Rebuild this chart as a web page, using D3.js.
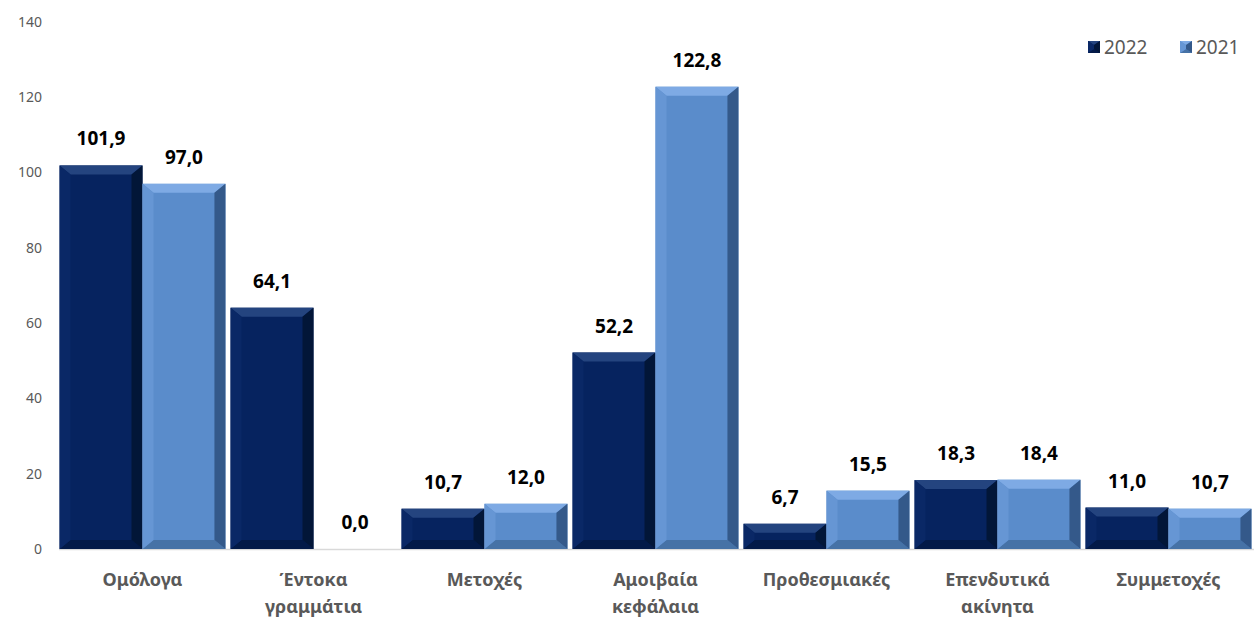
<!DOCTYPE html>
<html>
<head>
<meta charset="utf-8">
<script src="https://cdn.jsdelivr.net/npm/d3@7"></script>
<style>
  body { margin: 0; background: #fff; }
  svg text { font-family: "Noto Sans", "Open Sans", sans-serif; }
</style>
</head>
<body>
<div id="chart"></div>
<script>
// Data
const categories = [
  ["Ομόλογα"],
  ["Έντοκα", "γραμμάτια"],
  ["Μετοχές"],
  ["Αμοιβαία", "κεφάλαια"],
  ["Προθεσμιακές"],
  ["Επενδυτικά", "ακίνητα"],
  ["Συμμετοχές"]
];
const seriesNames = ["2022", "2021"];
const values2022 = [101.9, 64.1, 10.7, 52.2, 6.7, 18.3, 11.0];
const values2021 = [97.0, 0.0, 12.0, 122.8, 15.5, 18.4, 10.7];
const yTicks = [0, 20, 40, 60, 80, 100, 120, 140];

const width = 1254, height = 622;
const margin = { top: 22, right: 0, bottom: 73, left: 57 };

const colors = {
  "2022": { base: "#06235f", top: "#24447f", left: "#0a2866", right: "#021638", bottom: "#031a48" },
  "2021": { base: "#5a8ccb", top: "#7eaae4", left: "#6696d4", right: "#34598a", bottom: "#4672a6" }
};

const svg = d3.select("#chart").append("svg")
  .attr("width", width).attr("height", height);

const x0 = d3.scaleBand()
  .domain(d3.range(categories.length))
  .range([margin.left, width - margin.right])
  .paddingInner(0.03).paddingOuter(0.015);

const x1 = d3.scaleBand().domain(seriesNames).range([0, x0.bandwidth()]);

const y = d3.scaleLinear().domain([0, 140]).range([height - margin.bottom, margin.top]);

// y tick labels
svg.append("g").selectAll("text")
  .data(yTicks).join("text")
  .attr("x", 42).attr("y", d => y(d)).attr("dy", "0.35em")
  .attr("text-anchor", "end")
  .attr("font-size", 14).attr("fill", "#595959")
  .text(d => d);

// baseline
svg.append("line")
  .attr("x1", margin.left + 2).attr("x2", width)
  .attr("y1", y(0) + 0.5).attr("y2", y(0) + 0.5)
  .attr("stroke", "#d9d9d9").attr("stroke-width", 1.5);

const rows = [];
categories.forEach((c, i) => {
  rows.push({ i, s: "2022", v: values2022[i] });
  rows.push({ i, s: "2021", v: values2021[i] });
});

function bevelBar(g, x, yTop, w, h, col, bev) {
  if (h <= 0) return;
  g.append("rect").attr("x", x).attr("y", yTop).attr("width", w).attr("height", h).attr("fill", col.base);
  const b = Math.min(bev, h / 2, w / 2);
  const bx = Math.min(bev + 2, w / 2);
  const x2 = x + w, y2 = yTop + h;
  g.append("polygon")
    .attr("points", [[x, yTop], [x2, yTop], [x2 - bx, yTop + b], [x + bx, yTop + b]].join(" "))
    .attr("fill", col.top);
  g.append("polygon")
    .attr("points", [[x, y2], [x2, y2], [x2 - bx, y2 - b], [x + bx, y2 - b]].join(" "))
    .attr("fill", col.bottom);
  g.append("polygon")
    .attr("points", [[x, yTop], [x + bx, yTop + b], [x + bx, y2 - b], [x, y2]].join(" "))
    .attr("fill", col.left);
  g.append("polygon")
    .attr("points", [[x2, yTop], [x2 - bx, yTop + b], [x2 - bx, y2 - b], [x2, y2]].join(" "))
    .attr("fill", col.right);
}

const bars = svg.append("g");
rows.forEach(d => {
  const bx = x0(d.i) + x1(d.s);
  bevelBar(bars, bx, y(d.v), x1.bandwidth(), y(0) - y(d.v), colors[d.s], 9);
});

// value labels
svg.append("g").selectAll("text")
  .data(rows).join("text")
  .attr("x", d => x0(d.i) + x1(d.s) + x1.bandwidth() / 2)
  .attr("y", d => y(d.v) - 20)
  .attr("text-anchor", "middle")
  .attr("font-size", 19).attr("font-weight", "bold").attr("fill", "#000")
  .text(d => d3.format(".1f")(d.v).replace(".", ","));

// category labels
const catG = svg.append("g").selectAll("text")
  .data(categories).join("text")
  .attr("x", (d, i) => x0(i) + x0.bandwidth() / 2)
  .attr("y", 586)
  .attr("text-anchor", "middle")
  .attr("font-size", 18).attr("font-weight", "bold").attr("fill", "#595959");
catG.selectAll("tspan")
  .data(d => d).join("tspan")
  .attr("x", function () { return d3.select(this.parentNode).attr("x"); })
  .attr("dy", (d, j) => j === 0 ? 0 : 27)
  .text(d => d);

// legend
const legend = svg.append("g");
seriesNames.forEach((s, k) => {
  const lx = 1088 + k * 92;
  bevelBar(legend, lx, 41, 12, 12, colors[s], 4);
  legend.append("text")
    .attr("x", lx + 16).attr("y", 47).attr("dy", "0.35em")
    .attr("font-size", 19).attr("fill", "#595959")
    .text(s);
});
</script>
</body>
</html>
